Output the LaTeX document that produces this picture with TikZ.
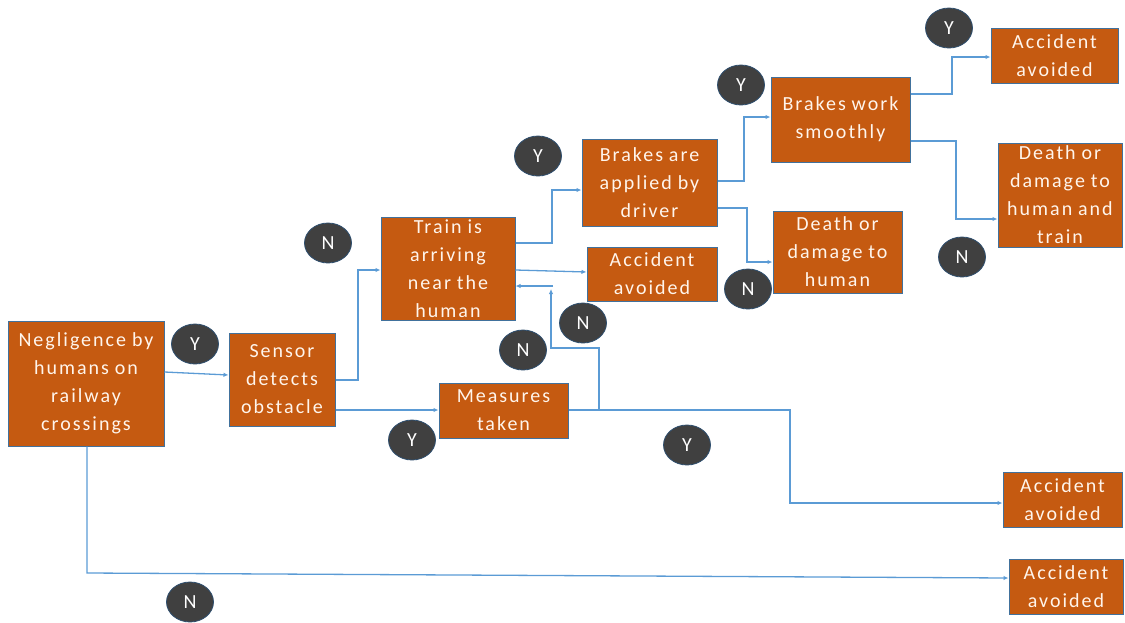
\documentclass[tikz,border=0pt]{standalone}
\usepackage{fontspec}
\setmainfont{Carlito}[LetterSpace=10,WordSpace=0.9]
\usetikzlibrary{arrows.meta,shapes.geometric}

\definecolor{boxfill}{HTML}{C55A11}
\definecolor{boxline}{HTML}{41719C}
\definecolor{linkblue}{HTML}{5B9BD5}
\definecolor{tagfill}{HTML}{404040}
\definecolor{tagline}{HTML}{2F4F6F}
\definecolor{boxtext}{HTML}{FFF5EC}

\tikzset{
  stepbox/.style={draw=boxline, fill=boxfill, line width=1pt, text=boxtext,
    inner sep=0pt, align=center, font=\fontsize{20}{28}\selectfont},
  tag/.style={ellipse, fill=tagfill, draw=tagline, line width=0.8pt,
    minimum width=47pt, minimum height=40pt, inner sep=0pt, text=white,
    font=\fontsize{20}{24}\selectfont},
  conn/.style={draw=linkblue, line width=1.3pt, -{Latex[length=5pt,width=4.5pt]}}
}

\begin{document}
\begin{tikzpicture}[x=1pt,y=-1pt]
\useasboundingbox (0,0) rectangle (1125,622);

% decision boxes
\node[stepbox, minimum width=156pt, minimum height=125pt] (neg) at (86,383.5)
  {Negligence by\\humans on\\railway\\crossings};
\node[stepbox, minimum width=106pt, minimum height=93pt] (sen) at (282,379.5)
  {Sensor\\detects\\obstacle};
\node[stepbox, minimum width=134pt, minimum height=103pt] (train) at (448,268.5)
  {Train is\\arriving\\near the\\human};
\node[stepbox, minimum width=130pt, minimum height=54pt] (accm) at (652,274)
  {Accident\\avoided};
\node[stepbox, minimum width=129pt, minimum height=55pt] (meas) at (503.5,410.5)
  {Measures\\taken};
\node[stepbox, minimum width=135pt, minimum height=87pt] (brk) at (649.5,182.5)
  {Brakes are\\applied by\\driver};
\node[stepbox, minimum width=129pt, minimum height=82pt] (dh) at (837.5,252)
  {Death or\\damage to\\human};
\node[stepbox, minimum width=139pt, minimum height=85pt] (bw) at (840.5,119.5)
  {Brakes work\\smoothly};
\node[stepbox, minimum width=127pt, minimum height=55pt] (acct) at (1054.5,55.5)
  {Accident\\avoided};
\node[stepbox, minimum width=124pt, minimum height=104pt] (dt) at (1060,195)
  {Death or\\damage to\\human and\\train};
\node[stepbox, minimum width=119pt, minimum height=55pt] (acc3) at (1062.5,499.5)
  {Accident\\avoided};
\node[stepbox, minimum width=114pt, minimum height=55pt] (acc4) at (1066,586.5)
  {Accident\\avoided};

% connectors
\draw[conn] (neg.east |- 0,372) -- (sen.west |- 0,375);
\draw[conn] (sen.east |- 0,380) -- (358,380) |- (train.west |- 0,270);
\draw[conn] (sen.east |- 0,410) -- (meas.west |- 0,410);
\draw[conn] (train.east |- 0,243) -- (552,243) |- (brk.west |- 0,190);
\draw[conn] (train.east |- 0,270) -- (accm.west |- 0,272);
\draw[conn] (meas.east |- 0,410) -- (790,410) |- (acc3.west |- 0,503);
\draw[conn] (599,410) -- (599,348) -- (551,348) -- (551,289);
\draw[conn] (553,286) -- (train.east |- 0,286);
\draw[conn] (brk.east |- 0,181) -- (744,181) |- (bw.west |- 0,117);
\draw[conn] (brk.east |- 0,208) -- (747,208) |- (dh.west |- 0,262);
\draw[conn] (bw.east |- 0,94) -- (952,94) |- (acct.west |- 0,57);
\draw[conn] (bw.east |- 0,141) -- (956,141) |- (dt.west |- 0,219);
\draw[conn] (neg.south -| 87,0) -- (87,573) -- (acc4.west |- 0,578);

% yes / no tags
\node[tag] (t1) at (195,344) {Y};
\node[tag] (t2) at (328,243) {N};
\node[tag] (t3) at (538,156) {Y};
\node[tag] (t4) at (741,85) {Y};
\node[tag] (t5) at (949,28) {Y};
\node[tag] (t6) at (748,289) {N};
\node[tag] (t7) at (583,323) {N};
\node[tag] (t8) at (523,350) {N};
\node[tag] (t9) at (412,440) {Y};
\node[tag] (t10) at (687,445) {Y};
\node[tag] (t11) at (962,257) {N};
\node[tag] (t12) at (190,602) {N};
\end{tikzpicture}
\end{document}
